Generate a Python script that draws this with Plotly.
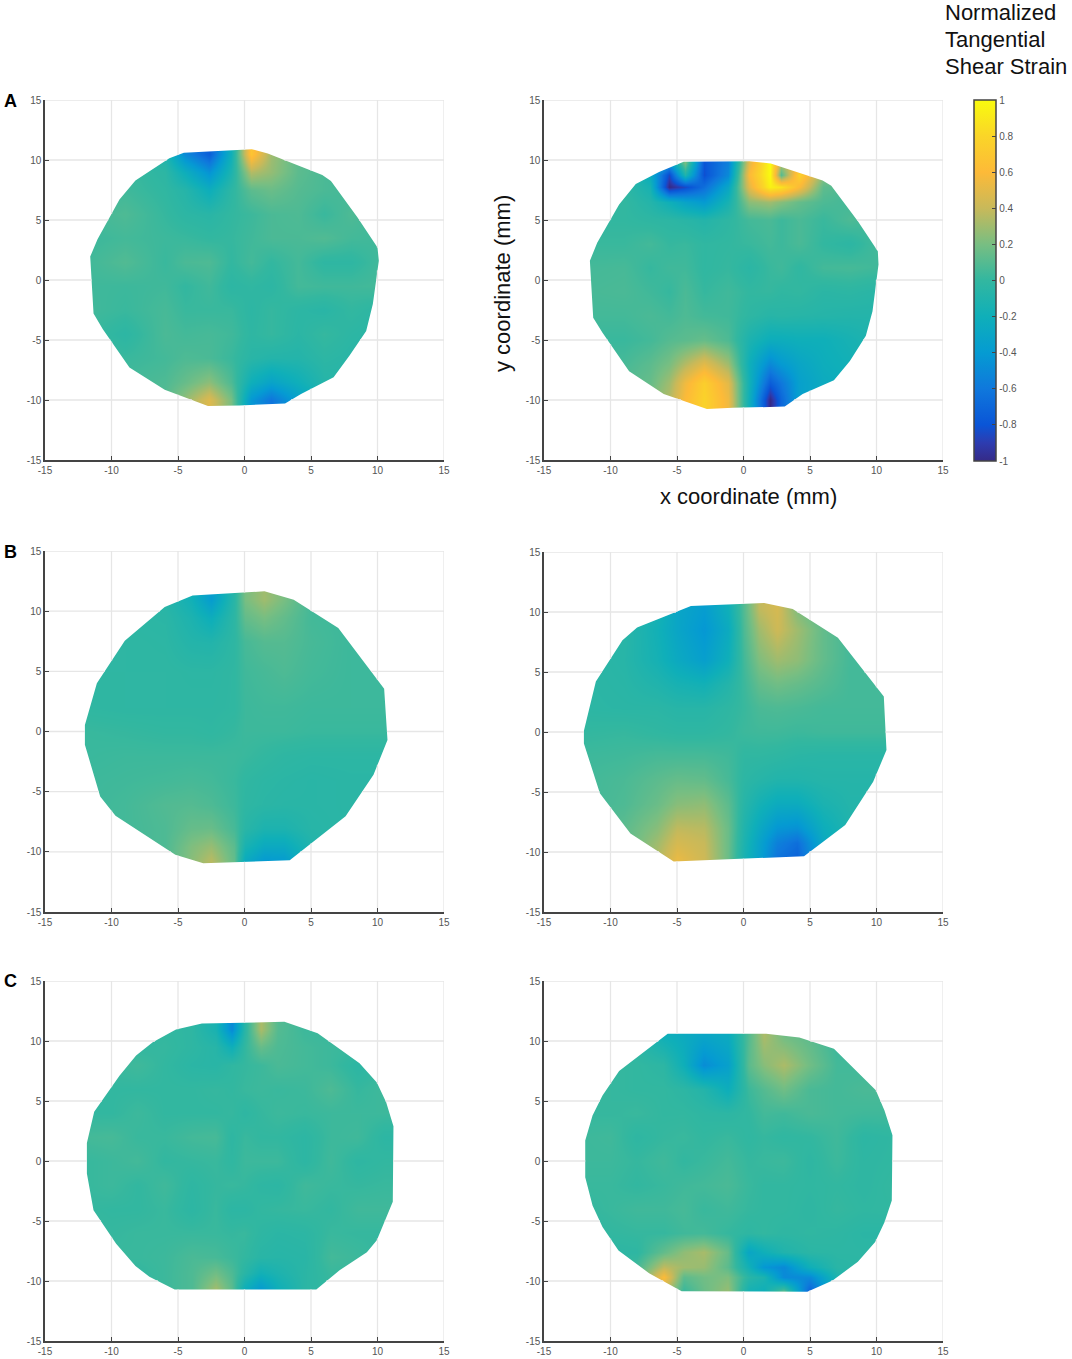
import plotly.graph_objects as go

# ---------- text ----------
TICKS = [-15, -10, -5, 0, 5, 10, 15]
BAR_TICKS = [1, 0.8, 0.6, 0.4, 0.2, 0, -0.2, -0.4, -0.6, -0.8, -1]
BAR_TITLE = ["Normalized", "Tangential", "Shear Strain"]
ROW_LABELS = ["A", "B", "C"]

# ---------- panel A, left ----------
AL_PX = [-4.56,-0.9,0.55,1.75,5.85,6.5,8.5,10.0,10.1,9.65,9.15,7.9,6.7,4.25,3.05,-0.4,-2.75,-6,-8.65,-10.65,-11.35,-11.6,-11.05,-9.4,-8.2,-5.65]
AL_PY = [10.6,10.8,10.9,10.55,8.75,8.25,5.2,2.7,1.6,-2.0,-4.25,-6.3,-8.1,-9.5,-10.3,-10.45,-10.5,-9.15,-7.3,-4.1,-2.8,1.95,3.4,6.7,8.3,10.15]
AL_X = [-12.5,-9,-6,-4.5,-2.7,-1,0.5,2,4,6,8,10,12.5]
AL_Y = [12,10.5,9,7.5,5.5,3.5,1.5,-0.5,-2.5,-4.5,-6.5,-8.5,-10,-12]
AL_Z = [
 [0,0,-.1,-.5,-.75,-.2,.68,.3,.12,.05,.05,.05,.05],
 [0,0,-.1,-.5,-.75,-.2,.68,.3,.12,.05,.05,.05,.05],
 [.02,.03,-.03,-.22,-.45,-.12,.35,.27,.12,.07,.05,.05,.05],
 [.03,.04,-.01,-.07,-.22,-.03,.12,.16,.1,.07,.05,.05,.05],
 [.04,.08,.01,-.03,-.05,0,.03,.07,.08,.02,.08,.04,.04],
 [.02,.05,.03,.02,0,.01,.04,.07,.07,.09,.05,.04,.04],
 [.03,.09,.02,.07,.08,0,.05,0,.05,-.02,-.02,.04,.03],
 [.04,.03,.04,0,.04,-.03,-.01,-.03,.05,.04,.04,.05,.04],
 [.05,.02,.06,.02,.02,.02,-.03,.01,-.03,-.05,0,-.03,-.03],
 [.04,-.03,.07,.05,.06,.04,-.02,.01,-.04,.01,-.03,-.05,-.05],
 [.04,.02,.05,.08,.07,.02,-.05,-.08,-.08,-.03,-.05,-.05,-.05],
 [.05,.05,.08,.15,.25,.08,-.2,-.32,-.2,-.07,-.05,-.05,-.05],
 [.05,.05,.1,.27,.48,.2,-.42,-.62,-.35,-.12,-.05,-.05,-.05],
 [.05,.05,.1,.27,.48,.2,-.42,-.62,-.35,-.12,-.05,-.05,-.05],
]

# ---------- panel A, right ----------
AR_PX = [-4.5,0.45,2.05,4.55,5.95,6.6,8.6,10.1,10.15,9.7,9.2,8,6.8,4.45,3.1,-0.8,-2.75,-6,-8.6,-10.6,-11.3,-11.55,-11,-9.35,-8.1,-6.35]
AR_PY = [9.85,9.9,9.7,8.8,8.3,7.85,4.9,2.4,1.3,-2.6,-4.65,-6.75,-8.35,-9.5,-10.55,-10.65,-10.75,-9.5,-7.6,-4.4,-3.15,1.6,3.1,6.3,8.0,9.0]
AR_X = [-12.5,-9,-7,-5.6,-4.4,-3,-1.2,0.4,2,2.8,4.2,6,8,10,12.5]
AR_Y = [12,9.8,8.8,7.8,6.5,5,3,1,-1,-3,-5,-7,-8.6,-10,-12]
AR_Z = [
 [0,0,-.1,-.4,.2,-.8,-.55,.5,1,.35,.5,.2,.1,.05,.05],
 [0,0,-.1,-.4,.2,-.8,-.55,.5,1,.35,.5,.2,.1,.05,.05],
 [0,0,-.25,-.85,-.1,-.82,-.5,.6,1,.1,.78,.25,.1,.05,.05],
 [0,-.02,-.15,-1,-.85,-.65,-.3,.5,.95,.88,.6,.13,.07,.05,.05],
 [0,0,-.08,-.2,-.32,-.4,-.15,.25,.3,.24,.15,.08,.05,.05,.05],
 [0,0,-.02,-.03,-.05,-.08,-.02,.05,.07,.03,.07,.02,.08,.04,.04],
 [.02,.02,.05,.01,.02,-.01,0,.02,.05,.03,.07,0,-.03,.05,.04],
 [.05,.06,.01,.04,.04,-.01,.01,-.04,.02,.04,-.01,.05,.06,.04,.03],
 [.06,.07,.04,.01,.07,.01,.04,0,.01,-.01,0,-.04,-.03,-.05,-.05],
 [.05,.05,.07,.05,.08,.05,.04,-.02,-.06,-.05,-.06,-.07,-.08,-.08,-.08],
 [.02,.02,.05,.1,.12,.15,.08,-.12,-.22,-.22,-.2,-.2,-.15,-.1,-.1],
 [.05,.06,.12,.2,.35,.5,.3,-.2,-.5,-.4,-.3,-.22,-.18,-.1,-.1],
 [.1,.1,.15,.3,.55,.75,.5,-.18,-.75,-.6,-.35,-.25,-.2,-.1,-.1],
 [.1,.1,.2,.35,.6,.78,.55,-.2,-1,-.7,-.35,-.25,-.2,-.1,-.1],
 [.1,.1,.2,.35,.6,.78,.55,-.2,-1,-.7,-.35,-.25,-.2,-.1,-.1],
]

# ---------- panel B, left ----------
BL_PX = [-3.9,1.5,3.7,7.05,10.5,10.75,9.7,7.6,3.4,-3.1,-5.2,-9.7,-10.85,-12,-12,-11.1,-9,-6]
BL_PY = [11.3,11.65,10.95,8.6,3.55,-0.7,-3.6,-7.05,-10.7,-10.95,-10.25,-7.0,-5.4,-1.1,0.55,4.0,7.55,10.35]
BL_X = [-12.5,-9,-6,-4,-2.5,-0.8,0,1.5,3,5,8,12.5]
BL_Y = [12,11,9.5,7.5,5,2,0,-2,-4,-6,-8,-9.5,-10.7,-12]
BL_Z = [
 [-.03,-.03,-.06,-.18,-.38,-.05,.2,.3,.2,.05,.03,.03],
 [-.03,-.03,-.06,-.18,-.38,-.05,.2,.3,.2,.05,.03,.03],
 [-.03,-.03,-.04,-.12,-.22,-.03,.14,.2,.14,.05,.03,.03],
 [-.02,-.02,-.03,-.08,-.09,-.02,.06,.1,.1,.06,.03,.03],
 [-.02,-.02,-.02,-.03,-.03,-.01,.04,.06,.08,.05,.03,.03],
 [-.01,-.02,-.02,-.02,-.02,-.01,.03,.04,.04,.03,.03,.03],
 [.02,.01,0,0,-.01,.01,.03,.03,.03,.02,.02,.02],
 [.02,.03,.03,.03,.03,.03,.02,0,-.02,-.03,-.03,-.03],
 [.03,.04,.05,.06,.05,.02,-.01,-.03,-.04,-.05,-.04,-.04],
 [.03,.05,.09,.1,.08,.03,-.02,-.04,-.05,-.05,-.04,-.04],
 [.03,.05,.08,.15,.16,.06,-.05,-.12,-.12,-.06,-.04,-.04],
 [.03,.05,.08,.22,.28,.12,-.14,-.26,-.26,-.1,-.04,-.04],
 [.03,.05,.08,.24,.36,.14,-.25,-.4,-.38,-.12,-.04,-.04],
 [.03,.05,.08,.24,.36,.14,-.25,-.4,-.38,-.12,-.04,-.04],
]

# ---------- panel B, right ----------
BR_PX = [-3.95,1.55,3.7,7.1,10.55,10.75,9.75,7.65,4.55,-5.25,-8.5,-10.8,-12,-12,-11.1,-9.1,-8]
BR_PY = [10.5,10.75,10.25,7.85,2.95,-1.5,-4.15,-7.75,-10.35,-10.8,-8.45,-5.1,-0.95,0.1,4.2,7.65,8.7]
BR_X = [-12.5,-9,-6.5,-5,-3,-1.2,0,1.2,2.5,4,6,8,12.5]
BR_Y = [12,10.3,8.5,6,4,2,0,-2,-4,-6,-8,-9.2,-10.5,-12]
BR_Z = [
 [-.02,-.02,-.15,-.3,-.38,-.2,.1,.38,.45,.22,.08,.05,.05],
 [-.02,-.02,-.15,-.3,-.38,-.2,.1,.38,.45,.22,.08,.05,.05],
 [-.03,-.05,-.18,-.3,-.42,-.25,.08,.3,.42,.3,.14,.05,.05],
 [-.03,-.06,-.16,-.26,-.36,-.2,.05,.22,.3,.26,.14,.05,.05],
 [-.03,-.05,-.1,-.15,-.18,-.08,.03,.14,.18,.15,.1,.05,.05],
 [-.03,-.04,-.04,-.06,-.06,-.02,.02,.07,.08,.07,.05,.05,.05],
 [0,.01,-.01,-.02,-.02,0,.03,.04,.04,.03,.04,.04,.04],
 [.03,.04,.06,.06,.06,.04,-.01,-.01,-.02,-.04,-.05,-.05,-.05],
 [.04,.07,.12,.15,.14,.06,-.03,-.06,-.09,-.09,-.07,-.07,-.07],
 [.04,.08,.16,.24,.26,.12,-.06,-.16,-.24,-.24,-.13,-.08,-.08],
 [.05,.12,.24,.38,.36,.16,-.1,-.26,-.42,-.45,-.22,-.1,-.1],
 [.05,.12,.3,.45,.4,.16,-.12,-.32,-.55,-.65,-.27,-.1,-.1],
 [.05,.12,.34,.52,.42,.16,-.14,-.34,-.62,-.72,-.3,-.1,-.1],
 [.05,.12,.34,.52,.42,.16,-.14,-.34,-.62,-.72,-.3,-.1,-.1],
]

# ---------- panel C, left ----------
CL_PX = [-3.2,3,5.5,8.65,9.95,10.65,11.2,11.15,9.95,9.2,7.15,5.4,-5.25,-7.15,-8.2,-9.65,-11.35,-11.85,-11.85,-11.3,-9.4,-8.15,-6.9,-5.15]
CL_PY = [11.45,11.6,10.65,8.15,6.55,4.9,2.9,-3.4,-6.6,-7.6,-9.1,-10.7,-10.7,-9.65,-8.75,-6.9,-4.1,-1.05,1.5,4.1,7.1,8.8,9.9,10.95]
CL_X = [-12.5,-10,-8,-6,-4,-2.2,-1,0,1.2,2.5,4.5,6.5,8.5,10.5,12.5]
CL_Y = [12,11,9.5,8,6,4,2,0,-2,-4,-6,-8,-9.3,-10.6,-12]
CL_Z = [
 [0,0,0,0,-.02,-.14,-.5,-.05,.33,.1,.03,.02,.02,.02,.02],
 [0,0,0,0,-.02,-.14,-.5,-.05,.33,.1,.03,.02,.02,.02,.02],
 [0,0,0,.01,-.02,-.06,-.2,0,.15,.08,.05,.03,.02,.02,.02],
 [.04,.02,.04,0,-.04,-.05,-.01,.01,.03,.07,.05,.03,-.03,.01,.01],
 [.01,0,0,0,0,.01,0,.02,.03,.02,.03,.08,.01,.04,.03],
 [0,0,.03,0,0,0,.01,-.02,.01,.03,.02,.03,.03,.03,.03],
 [.05,.06,.02,.02,.05,.06,-.02,.02,0,0,-.03,.03,.04,-.03,-.03],
 [.01,.03,.05,0,.01,.02,-.01,.03,.03,.03,-.03,.04,-.02,0,0],
 [.01,.03,0,.04,-.02,.01,.02,.01,-.02,-.03,.04,.02,.01,.02,.02],
 [.01,0,0,.02,-.03,.02,-.03,-.03,0,.01,.02,0,.04,.04,.04],
 [.02,.01,.02,.02,.02,.02,.01,.02,-.02,-.04,-.03,.02,.01,.01,.01],
 [.02,.02,.02,.03,.07,.06,.03,0,-.05,-.06,-.05,.05,.03,0,0],
 [.02,.02,0,.03,.08,.18,.08,-.05,-.18,-.12,-.04,.02,.01,0,0],
 [.02,.02,.01,.03,.08,.3,.12,-.2,-.38,-.2,-.04,.01,.01,0,0],
 [.02,.02,.01,.03,.08,.3,.12,-.2,-.38,-.2,-.04,.01,.01,0,0],
]

# ---------- panel C, right ----------
CR_PX = [-5.7,1.7,4.2,6.8,9.95,10.6,11.2,11.15,10.6,9.9,8.6,6.7,4.8,-4.65,-7.1,-9.4,-10.6,-11.35,-11.9,-11.9,-11.35,-10.6,-9.35]
CR_PY = [10.6,10.6,10.3,9.35,5.9,4.2,2.15,-3.3,-5.1,-6.75,-8.4,-9.95,-10.9,-10.85,-9.35,-7.45,-5.5,-3.7,-1.35,1.7,3.8,5.45,7.5]
CR_X = [-12.5,-10,-8,-6,-4.5,-3,-1.2,0.4,1.5,3,5,7,9,12.5]
CR_Y = [12,10.5,8,6,4,2,0,-2,-4,-6,-7.6,-8.8,-9.7,-10.8,-12]
CR_Z = [
 [-.05,-.05,-.05,-.2,-.25,-.3,-.25,.1,.33,.18,.12,.02,.02,.02],
 [-.05,-.05,-.05,-.2,-.25,-.3,-.25,.1,.33,.18,.12,.02,.02,.02],
 [0,.01,0,-.03,-.2,-.48,-.35,.12,.24,.33,.18,.05,.04,.04],
 [.02,.01,0,0,-.03,-.08,-.22,.03,.1,.18,.07,.05,.07,.07],
 [.01,.01,.02,0,0,-.02,-.03,0,.05,.04,.07,.05,.04,.04],
 [.03,.04,-.02,.01,.02,0,.02,-.01,.01,-.01,0,.04,-.03,0],
 [.03,.03,.01,.04,0,.02,.05,.01,.02,.03,-.02,.03,-.02,0],
 [.02,.02,0,.02,.04,.05,.07,.02,0,0,-.01,0,-.02,.02],
 [0,.02,.04,.04,.06,.02,.04,.01,0,0,-.02,.01,-.01,0],
 [-.03,0,.01,.01,.04,.05,.01,-.02,0,-.02,-.01,-.02,-.04,-.04],
 [-.03,-.03,-.02,.14,.26,.32,.15,-.3,-.2,-.1,-.04,-.03,-.03,-.03],
 [-.03,-.03,.05,.38,.3,.28,.12,-.18,-.42,-.5,-.2,-.05,-.03,-.03],
 [-.03,-.03,.1,.6,.12,.18,.22,-.05,-.12,-.5,-.5,-.12,-.03,-.03],
 [-.03,-.03,.15,.4,.02,.16,.28,-.16,-.2,.12,-.72,-.2,-.03,-.03],
 [-.03,-.03,.15,.4,.02,.16,.28,-.16,-.2,.12,-.72,-.2,-.03,-.03],
]

# ---------- colour scale ----------
BAR_POS = [0, .05, .1, .2, .3, .4, .5, .6, .7, .8, .9, 1]
BAR_RGB = ["#352a87", "#2d3cb0", "#0a55d7", "#0f78dc", "#059bd2", "#0fafb9", "#32b7a0",
           "#78be82", "#c8b95a", "#fdba38", "#fad528", "#f9fb0e"]

W, H = 1072, 1359
PANELS = [
    ("x1", "y1", AL_X, AL_Y, AL_Z, AL_PX, AL_PY, 45, 444, 100, 460),
    ("x2", "y2", AR_X, AR_Y, AR_Z, AR_PX, AR_PY, 544, 943, 100, 460),
    ("x3", "y3", BL_X, BL_Y, BL_Z, BL_PX, BL_PY, 45, 444, 551, 912),
    ("x4", "y4", BR_X, BR_Y, BR_Z, BR_PX, BR_PY, 544, 943, 552, 912),
    ("x5", "y5", CL_X, CL_Y, CL_Z, CL_PX, CL_PY, 45, 444, 981, 1341),
    ("x6", "y6", CR_X, CR_Y, CR_Z, CR_PX, CR_PY, 544, 943, 981, 1341),
]
GRID = "#e6e6e6"
AXIS = "#444444"
TXT = "#555555"
FONT = "Liberation Sans"


def outside_segments(px, py, horizontal, level):
    """Pieces of one grid line lying outside the outline (the outline hides the grid)."""
    hits = []
    n = len(px)
    for i in range(n):
        a0, b0 = (px[i], py[i]) if horizontal else (py[i], px[i])
        a1, b1 = (px[(i + 1) % n], py[(i + 1) % n]) if horizontal else (py[(i + 1) % n], px[(i + 1) % n])
        if (b0 <= level) != (b1 <= level):
            hits.append(a0 + (level - b0) * (a1 - a0) / (b1 - b0))
    hits.sort()
    if len(hits) < 2:
        return [(-15, 15)]
    return [(-15, hits[0]), (hits[-1], 15)]


def mask_path(px, py):
    area = sum(px[i] * py[(i + 1) % len(px)] - px[(i + 1) % len(px)] * py[i] for i in range(len(px)))
    qx, qy = list(px), list(py)
    if area < 0:  # the outline must run against the clockwise outer frame
        qx.reverse()
        qy.reverse()
    xs = [-16, -16, 16, 16, -16] + qx + [qx[0], -16]
    ys = [-16, 16, 16, -16, -16] + qy + [qy[0], -16]
    return xs, ys


fig = go.Figure()
layout = {}
scale = [[p, c] for p, c in zip(BAR_POS, BAR_RGB)]

for i, (xa, ya, gx, gy, gz, px, py, l, r, t, b) in enumerate(PANELS):
    show = i == 0
    fig.add_trace(go.Heatmap(
        x=gx, y=gy[::-1], z=gz[::-1], xaxis=xa, yaxis=ya, zmin=-1, zmax=1, zsmooth="best",
        colorscale=scale, showscale=show, hoverinfo="skip",
        colorbar=dict(
            x=974 / W, xanchor="left", y=1 - 100 / H, yanchor="top", lenmode="pixels", len=361,
            thicknessmode="pixels", thickness=22, xpad=0, ypad=0, outlinecolor=AXIS, outlinewidth=1.5,
            ticks="inside", ticklen=4, tickcolor=AXIS, tickvals=BAR_TICKS,
            ticktext=[str(v) for v in BAR_TICKS], tickfont=dict(family=FONT, size=10, color=TXT),
        ) if show else None,
    ))
    mx, my = mask_path(px, py)
    fig.add_trace(go.Scatter(x=mx, y=my, xaxis=xa, yaxis=ya, mode="lines", fill="toself",
                             fillcolor="white", line=dict(width=0, color="white"),
                             hoverinfo="skip", showlegend=False))
    lx, ly = [], []
    for v in TICKS[1:]:
        if v == 15:
            lx += [-15, 15, None]
            ly += [15, 15, None]
            lx += [15, 15, None]
            ly += [-15, 15, None]
            continue
        for s0, s1 in outside_segments(px, py, True, v):
            lx += [s0, s1, None]
            ly += [v, v, None]
        for s0, s1 in outside_segments(px, py, False, v):
            lx += [v, v, None]
            ly += [s0, s1, None]
    fig.add_trace(go.Scatter(x=lx, y=ly, xaxis=xa, yaxis=ya, mode="lines",
                             line=dict(color=GRID, width=1.3), hoverinfo="skip", showlegend=False))
    suffix = xa[1:]
    common = dict(range=[-15, 15], tickvals=TICKS, ticktext=[str(v) for v in TICKS], showgrid=False,
                  zeroline=False, showline=True, linecolor=AXIS, linewidth=1.5, ticks="inside",
                  ticklen=4, tickcolor=AXIS, tickfont=dict(family=FONT, size=10, color=TXT))
    layout[f"xaxis{suffix}"] = dict(common, domain=[l / W, r / W], anchor=f"y{suffix}")
    layout[f"yaxis{suffix}"] = dict(common, domain=[1 - b / H, 1 - t / H], anchor=f"x{suffix}")


def note(text, x, y, size, bold=False, color="#111111", angle=0, anchor="left"):
    return dict(text=f"<b>{text}</b>" if bold else text, x=x / W, y=1 - y / H, xref="paper", yref="paper",
                xanchor=anchor, yanchor="middle", showarrow=False, textangle=angle,
                font=dict(family=FONT, size=size, color=color))


notes = [note(s, 943, yy, 22) for s, yy in zip(BAR_TITLE, [13, 40, 66])]
notes += [note(s, 2, yy, 18, bold=True, color="black") for s, yy in zip(ROW_LABELS, [101, 552, 981])]
notes.append(note("x coordinate (mm)", 748, 497, 22, anchor="center"))
notes.append(note("y coordinate (mm)", 502, 284, 22, angle=-90, anchor="center"))

fig.update_layout(width=W, height=H, margin=dict(l=0, r=0, t=0, b=0, autoexpand=False),
                  paper_bgcolor="white", plot_bgcolor="white", showlegend=False,
                  annotations=notes, **layout)
fig.write_html("out.html", config={"displayModeBar": False}, post_script="document.body.style.margin='0';")
